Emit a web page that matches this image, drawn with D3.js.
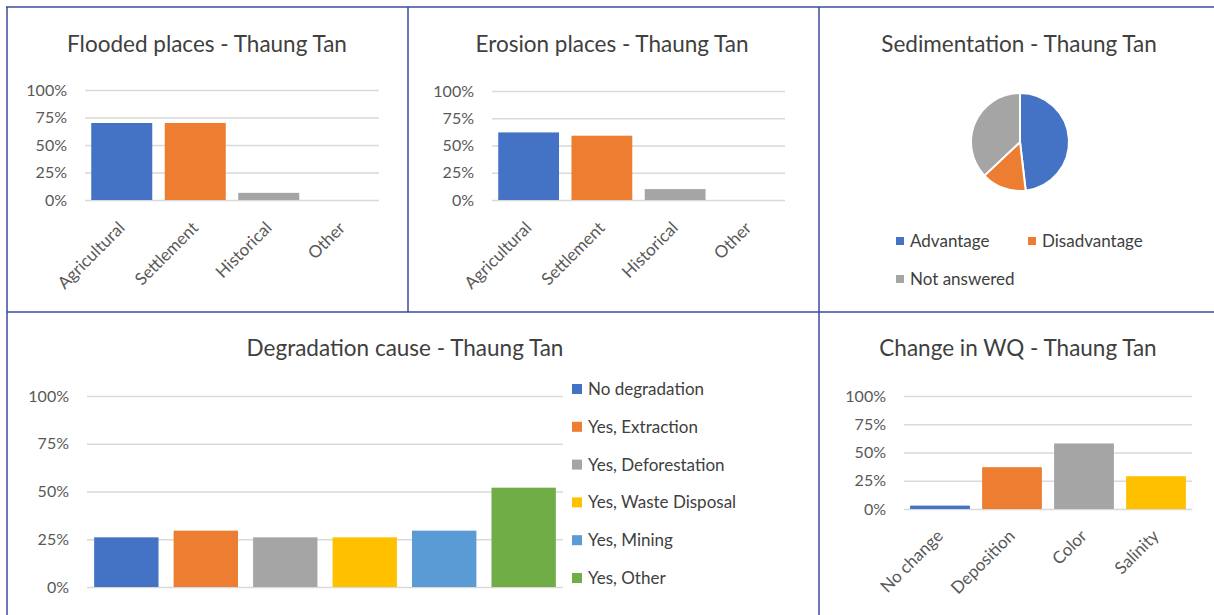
<!DOCTYPE html>
<html>
<head>
<meta charset="utf-8">
<script src="https://cdn.jsdelivr.net/npm/d3@7"></script>
<style>
  body { margin: 0; background: #fff; }
  svg { display: block; font-family: Lato, "Noto Sans", sans-serif; }
</style>
</head>
<body>
<div id="chart"></div>
<script>
// data
var placeCats = ["Agricultural", "Settlement", "Historical", "Other"]
var floodedVals = [0.70, 0.70, 0.065, 0]
var erosionVals = [0.62, 0.59, 0.10, 0]

var sedimentCats = ["Advantage", "Disadvantage", "Not answered"]
var sedimentVals = [13, 4, 10]

var degradCats = ["No degradation", "Yes, Extraction", "Yes, Deforestation", "Yes, Waste Disposal", "Yes, Mining", "Yes, Other"]
var degradVals = [0.26, 0.295, 0.26, 0.26, 0.295, 0.52]

var wqCats = ["No change", "Deposition", "Color", "Salinity"]
var wqVals = [0.03, 0.37, 0.58, 0.29]

var pctTicks = [0, 0.25, 0.5, 0.75, 1]

var colors = ["#4472c4", "#ed7d31", "#a5a5a5", "#ffc000", "#5b9bd5", "#70ad47"]
var borderColor = "#3b4aa3"

var width = 1214, height = 615

var svg = d3.select("#chart").append("svg")
  .attr("width", width)
  .attr("height", height)

// titles
function title(x, y, txt) {
  svg.append("text")
    .attr("x", x).attr("y", y)
    .attr("text-anchor", "middle")
    .attr("font-size", "22.5px")
    .attr("fill", "#404040")
    .text(txt)
}

// y axis with gridlines, percent labels
function pctAxis(g, y, x0, x1) {
  var ax = d3.axisLeft(y).tickValues(pctTicks).tickFormat(d3.format(".0%")).tickSize(-(x1 - x0)).tickPadding(18)
  var a = g.append("g").attr("transform", "translate(" + x0 + ",0)").call(ax)
  a.select(".domain").remove()
  a.selectAll(".tick line").attr("stroke", "#d9d9d9").attr("stroke-width", 1.3)
  a.selectAll(".tick text").attr("fill", "#595959").attr("font-size", "16px").attr("font-family", "Lato, sans-serif")
}

function barChart(cats, vals, x0, x1, y0, y1, labelY) {
  var g = svg.append("g")
  var x = d3.scaleBand().domain(cats).range([x0, x1]).paddingInner(0.17).paddingOuter(0.085)
  var y = d3.scaleLinear().domain([0, 1]).range([y0, y1])
  pctAxis(g, y, x0, x1)
  g.selectAll("rect.bar")
    .data(vals)
    .enter()
    .append("rect")
      .attr("class", "bar")
      .attr("x", function(d, i) { return x(cats[i]) })
      .attr("width", x.bandwidth())
      .attr("y", function(d) { return y(d) })
      .attr("height", function(d) { return y0 - y(d) })
      .attr("fill", function(d, i) { return colors[i] })
  // rotated category labels
  g.selectAll("text.cat")
    .data(cats)
    .enter()
    .append("text")
      .attr("class", "cat")
      .attr("text-anchor", "end")
      .attr("font-size", "17px")
      .attr("fill", "#595959")
      .attr("transform", function(d) {
        return "translate(" + (x(d) + x.bandwidth() / 2 + 4) + "," + labelY + ") rotate(-45)"
      })
      .text(function(d) { return d })
}

// ---- Flooded places
title(207, 52, "Flooded places - Thaung Tan")
barChart(placeCats, floodedVals, 85, 379, 200, 90, 229)

// ---- Erosion places
title(612, 52, "Erosion places - Thaung Tan")
barChart(placeCats, erosionVals, 492, 785, 200, 91, 229)

// ---- Sedimentation pie
title(1019, 52, "Sedimentation - Thaung Tan")
var pie = d3.pie().sort(null).value(function(d) { return d })
var arc = d3.arc().innerRadius(0).outerRadius(49)
var pieG = svg.append("g").attr("transform", "translate(1020,142)")
pieG.selectAll("path")
  .data(pie(sedimentVals))
  .enter()
  .append("path")
    .attr("d", arc)
    .attr("fill", function(d, i) { return colors[i] })
    .attr("stroke", "white")
    .attr("stroke-width", 2)

var pieLegend = [[900, 241], [1032, 241], [900, 279]]
sedimentCats.forEach(function(c, i) {
  svg.append("rect")
    .attr("x", pieLegend[i][0] - 4).attr("y", pieLegend[i][1] - 4)
    .attr("width", 8).attr("height", 8)
    .attr("fill", colors[i])
  svg.append("text")
    .attr("x", pieLegend[i][0] + 10).attr("y", pieLegend[i][1] + 6)
    .attr("font-size", "17px")
    .attr("fill", "#404040")
    .text(c)
})

// ---- Degradation cause (one group, six series)
title(405, 356, "Degradation cause - Thaung Tan")
var dg = svg.append("g")
var dx = d3.scaleBand().domain(degradCats).range([87, 563]).paddingInner(0.19).paddingOuter(0.09)
var dy = d3.scaleLinear().domain([0, 1]).range([587, 396])
pctAxis(dg, dy, 87, 563)
dg.selectAll("rect.bar")
  .data(degradVals)
  .enter()
  .append("rect")
    .attr("x", function(d, i) { return dx(degradCats[i]) })
    .attr("width", dx.bandwidth())
    .attr("y", function(d) { return dy(d) })
    .attr("height", function(d) { return 587 - dy(d) })
    .attr("fill", function(d, i) { return colors[i] })

var legY = d3.scalePoint().domain(degradCats).range([389, 578])
degradCats.forEach(function(c, i) {
  svg.append("rect")
    .attr("x", 572).attr("y", legY(c) - 5)
    .attr("width", 10).attr("height", 10)
    .attr("fill", colors[i])
  svg.append("text")
    .attr("x", 588).attr("y", legY(c) + 6)
    .attr("font-size", "17px")
    .attr("fill", "#404040")
    .text(c)
})

// ---- Change in WQ
title(1018, 356, "Change in WQ - Thaung Tan")
barChart(wqCats, wqVals, 904, 1192, 509, 396, 537)

// ---- panel borders
var borders = [
  [6, 7, 1214, 7],
  [7, 7, 7, 615],
  [408, 7, 408, 312],
  [7, 312, 1214, 312],
  [819, 7, 819, 615]
]
svg.selectAll("line.border")
  .data(borders)
  .enter()
  .append("line")
    .attr("x1", function(d) { return d[0] }).attr("y1", function(d) { return d[1] })
    .attr("x2", function(d) { return d[2] }).attr("y2", function(d) { return d[3] })
    .attr("stroke", borderColor)
    .attr("stroke-width", 1.5)
</script>
</body>
</html>
